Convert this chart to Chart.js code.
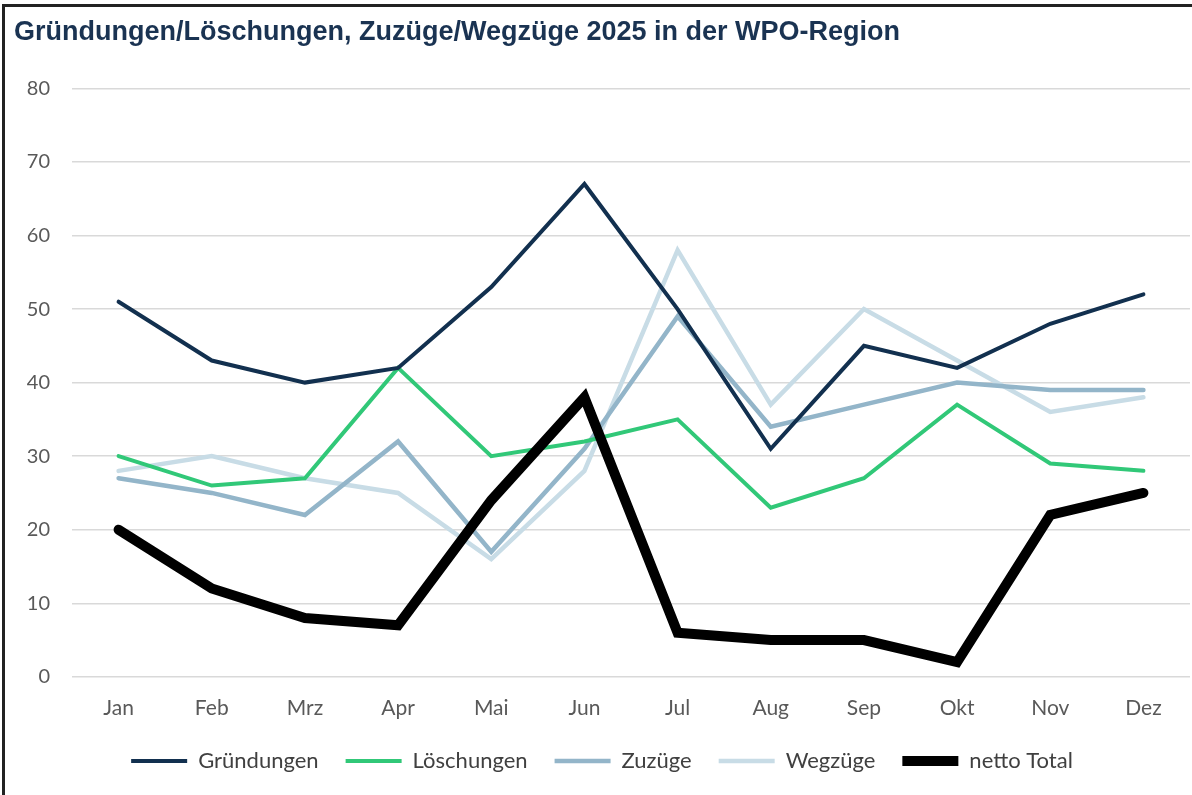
<!DOCTYPE html>
<html>
<head>
<meta charset="utf-8">
<script src="https://cdn.jsdelivr.net/npm/chart.js@4.4.1/dist/chart.umd.min.js"></script>
<style>
  body { margin: 0; background: #fff; }
  #wrap { position: absolute; left: 0; top: 0; width: 1192px; height: 795px; }
  #frame { position: absolute; left: 2px; top: 4px; width: 1190px; height: 791px;
           border-top: 3px solid #222; border-left: 3px solid #222; box-sizing: border-box; pointer-events: none; }
</style>
</head>
<body>
<div id="wrap">
  <canvas id="mycanvas"></canvas>
  <div id="frame"></div>
</div>
<script>
var months = ['Jan','Feb','Mrz','Apr','Mai','Jun','Jul','Aug','Sep','Okt','Nov','Dez'];
var gruendungen = [51,43,40,42,53,67,50,31,45,42,48,52];
var loeschungen = [30,26,27,42,30,32,35,23,27,37,29,28];
var zuzuege     = [27,25,22,32,17,31,49,34,37,40,39,39];
var wegzuege    = [28,30,27,25,16,28,58,37,50,43,36,38];
var nettoTotal  = [20,12,8,7,24,38,6,5,5,2,22,25];

function line(label, data, color, width, order){
	return {
		label: label,
		data: data,
		borderColor: color,
		backgroundColor: color,
		borderWidth: width,
		pointRadius: 0,
		tension: 0,
		borderJoinStyle: 'miter',
		borderCapStyle: 'round',
		order: order
	};
}

var chartdata = {
	labels: months,
	datasets: [
		line('Gründungen', gruendungen, '#12304f', 4, 1),
		line('Löschungen', loeschungen, '#31c878', 4, 2),
		line('Zuzüge', zuzuege, '#93b5c9', 4.5, 3),
		line('Wegzüge', wegzuege, '#c8dce6', 4.5, 4),
		line('netto Total', nettoTotal, '#000000', 10, 0)
	]
};

var ctx = document.getElementById('mycanvas');
var lineGraph = new Chart(ctx, {
	type: 'line',
	data: chartdata,
	options: {
		responsive: true,
		maintainAspectRatio: false,
		animation: false,
		layout: { padding: { left: 14, right: 2, top: 16, bottom: 13 } },
		plugins: {
			title: {
				display: true,
				text: 'Gründungen/Löschungen, Zuzüge/Wegzüge 2025 in der WPO-Region',
				align: 'start',
				color: '#1a3352',
				font: { family: 'Liberation Sans, Arial, sans-serif', size: 27, weight: 'bold' },
				padding: { top: 0, bottom: 40 }
			},
			legend: {
				position: 'bottom',
				labels: {
					boxWidth: 56,
					boxHeight: 0,
					padding: 27,
					color: '#404040',
					font: { family: 'Lato, sans-serif', size: 22 },
					sort: function(a, b){ return a.datasetIndex - b.datasetIndex; }
				}
			},
			tooltip: { enabled: false }
		},
		scales: {
			x: {
				offset: true,
				grid: { display: false, drawTicks: false },
				border: { display: false },
				ticks: { color: '#595959', padding: 19, font: { family: 'Lato, sans-serif', size: 21 } },
				afterFit: function(scale){ scale.height -= 17; }
			},
			y: {
				min: 0,
				max: 80,
				ticks: { stepSize: 10, color: '#595959', padding: 22, font: { family: 'Lato, sans-serif', size: 20 } },
				grid: { color: '#d9d9d9', lineWidth: 1.5, drawTicks: false },
				border: { display: false },
				afterFit: function(scale){ scale.width = 58; }
			}
		}
	}
});
</script>
</body>
</html>
